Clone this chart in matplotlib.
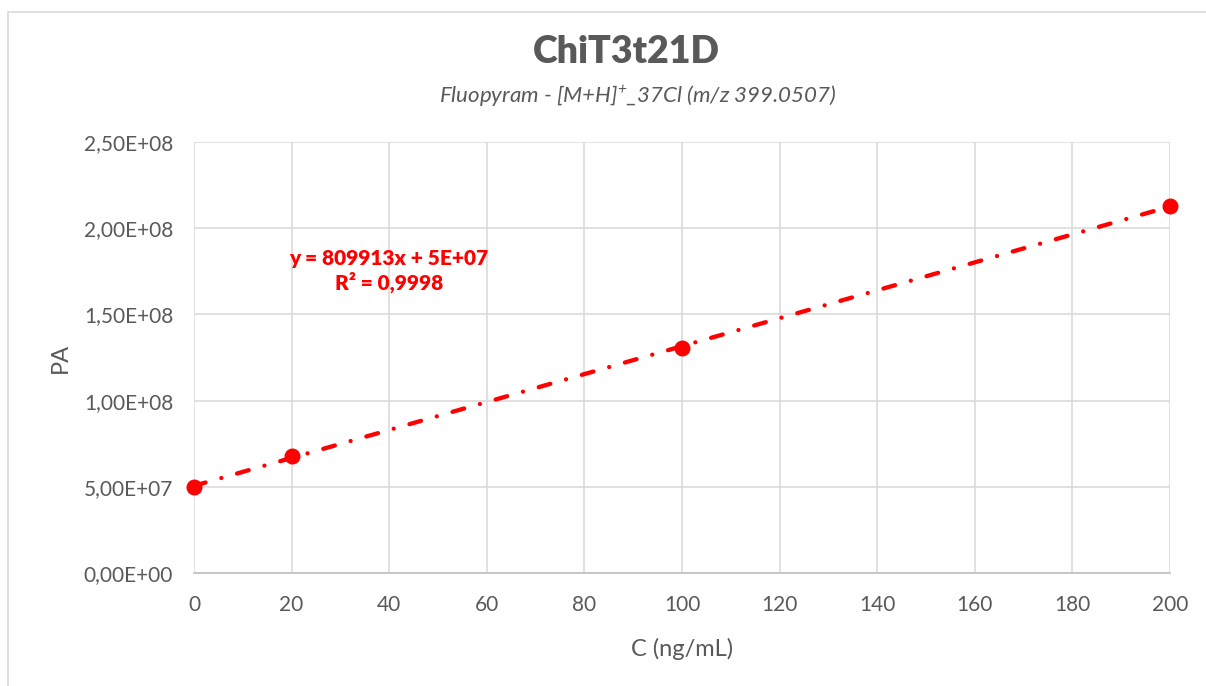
import numpy as np
import matplotlib
matplotlib.use("Agg")
import matplotlib.pyplot as plt
from matplotlib.patches import Rectangle
from matplotlib.ticker import FuncFormatter, MultipleLocator

conc = [0, 20, 100, 200]
pa = [5.0e7, 6.8e7, 1.305e8, 2.13e8]
title = "ChiT3t21D"
subtitle = "Fluopyram - [M+H]$^{+}$_37Cl (m/z 399.0507)"
xlabel = "C (ng/mL)"
ylabel = "PA"
equation = "y = 809913x + 5E+07\nR² = 0,9998"

plt.rcParams['font.family'] = ['Lato', 'DejaVu Sans']
plt.rcParams['mathtext.fontset'] = 'custom'
plt.rcParams['mathtext.rm'] = 'Lato:italic'
plt.rcParams['mathtext.it'] = 'Lato:italic'

fig = plt.figure(figsize=(12.06, 6.86), dpi=100)
fig.patches.append(Rectangle((8/1206, -0.01), 1.5, 1 - 12/686 + 0.01, transform=fig.transFigure,
                             fill=False, edgecolor='#d9d9d9', linewidth=1.2))
ax = fig.add_axes([194/1206, 113/686, 976/1206, 431/686])

ax.set_xlim(0, 200)
ax.set_ylim(0, 2.5e8)
ax.xaxis.set_major_locator(MultipleLocator(20))
ax.yaxis.set_major_locator(MultipleLocator(5e7))

def yfmt(v, pos):
    if v == 0:
        return "0,00E+00"
    e = int(np.floor(np.log10(abs(v))))
    m = v / 10**e
    return f"{m:.2f}".replace('.', ',') + f"E+{e:02d}"

ax.yaxis.set_major_formatter(FuncFormatter(yfmt))
ax.grid(True, color='#d9d9d9', linewidth=1.1)
ax.set_axisbelow(True)
for s in ['top', 'right', 'left']:
    ax.spines[s].set_visible(False)
ax.spines['bottom'].set_color('#bfbfbf')
ax.spines['bottom'].set_linewidth(1.2)
ax.tick_params(length=0, labelsize=15, colors='#595959')
ax.tick_params(axis='y', pad=15)
ax.tick_params(axis='x', pad=16)

coef = np.polyfit(conc, pa, 1)
xs = np.array([0, 200])
ax.plot(xs, np.polyval(coef, xs), color='red', linewidth=3.1,
        dashes=[2.8, 3.8, 0.01, 3.8], dash_capstyle='round', zorder=3)
ax.plot(conc, pa, 'o', color='red', markersize=10.5, zorder=4, clip_on=False)

ax.text(40, 1.75e8, equation, color='red', fontsize=15, fontweight='heavy',
        ha='center', va='center', linespacing=1.2)

fig.text(626/1206, 1 - 52/686, title, ha='center', va='center', fontsize=27,
         fontweight='heavy', color='#595959')
fig.text(638/1206, 1 - 96/686, subtitle, ha='center', va='center', fontsize=16,
         style='italic', color='#595959')
ax.set_xlabel(xlabel, fontsize=17, color='#595959', labelpad=16)
ax.set_ylabel(ylabel, fontsize=17, color='#595959', labelpad=9)

fig.savefig("out.png", dpi=100)
